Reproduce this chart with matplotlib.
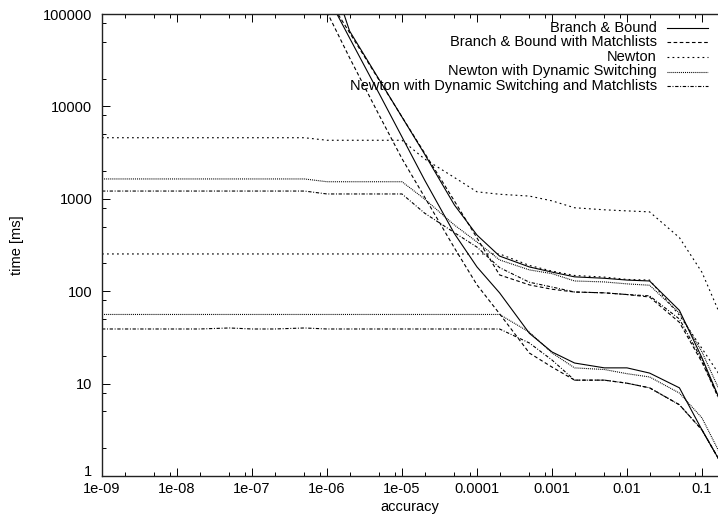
import numpy as np
import matplotlib
matplotlib.use('Agg')
import matplotlib.pyplot as plt
from matplotlib.lines import Line2D
from matplotlib.transforms import ScaledTranslation
from matplotlib.ticker import LogLocator, FixedLocator, FixedFormatter, NullFormatter

plt.rcParams['font.family'] = ['Liberation Sans', 'DejaVu Sans']
plt.rcParams['lines.scale_dashes'] = False

nan = np.nan

# Messwerte: Laufzeit [ms] über geforderter Genauigkeit
accuracy = [1e-9, 2e-9, 5e-9, 1e-8, 2e-8, 5e-8, 1e-7, 2e-7, 5e-7,
            1e-6, 2e-6, 5e-6, 1e-5, 2e-5, 5e-5, 1e-4, 2e-4, 5e-4,
            1e-3, 2e-3, 5e-3, 1e-2, 2e-2, 5e-2, 1e-1, 0.165]

bb_a = [nan] * 9 + [355000, 65500, 19300, 7670, 3050, 857, 405, 240, 183,
                    161, 143, 138, 132, 129, 62, 19, 7.3]
bb_b = [nan] * 9 + [160000, 55000, 13600, 4670, 1600, 420, 183, 96, 35,
                    22, 16.7, 14.8, 14.8, 13.0, 9.0, 3.15, 1.55]
bbm_a = [nan] * 9 + [155000, 62800, 19000, 7700, 3130, 946, 377, 150, 117,
                     105, 98, 96, 92, 86.5, 46, 17, 7.2]
bbm_b = [nan] * 9 + [105000, 33600, 7930, 2720, 1046, 294, 117, 57, 21.4,
                     15.1, 10.9, 10.9, 10.1, 9.0, 5.9, 3.15, 1.55]
newton_a = [4580] * 9 + [4300] * 4 + [2700, 1700, 1190, 1120, 1070,
                                      950, 800, 760, 740, 722, 380, 160, 62]
newton_b = [253] * 17 + [190, 165, 148, 142, 134, 132, 55, 24, 13]
nds_a = [1640] * 9 + [1530] * 4 + [995, 520, 341, 218, 170,
                                   155, 129, 126, 120, 116, 58, 22, 9]
nds_b = [56] * 17 + [36, 21.5, 14.8, 14.2, 12.8, 11.8, 7.9, 4.25, 1.9]
ndsm_a = [1213] * 9 + [1128] * 4 + [700, 430, 300, 180, 125,
                                    111, 98, 96, 92, 89, 50, 18, 7]
ndsm_b = [39, 39, 39, 39, 39, 40, 39, 39, 40, 39, 39, 39, 39, 39, 39, 39, 39,
          27.5, 18, 10.9, 10.9, 10.1, 9.0, 5.9, 3.15, 1.55]

labels = ['Branch & Bound', 'Branch & Bound with Matchlists', 'Newton',
          'Newton with Dynamic Switching',
          'Newton with Dynamic Switching and Matchlists']

x_ticks = [1e-9, 1e-8, 1e-7, 1e-6, 1e-5, 1e-4, 1e-3, 1e-2, 1e-1]
x_ticklabels = ['1e-09', '1e-08', '1e-07', '1e-06', '1e-05',
                '0.0001', '0.001', '0.01', '0.1']
y_ticks = [1, 10, 100, 1000, 10000, 100000]
y_ticklabels = ['1', '10', '100', '1000', '10000', '100000']

# Linienstile wie im gnuplot-Terminal (Angaben in pt)
styles = [
    '-',
    (0, (2.6, 1.8)),
    (0, (1.3, 2.3)),
    (0, (0.7, 0.7)),
    (0, (2.4, 1.2, 0.7, 1.2)),
]
series = [(bb_a, bb_b), (bbm_a, bbm_b), (newton_a, newton_b),
          (nds_a, nds_b), (ndsm_a, ndsm_b)]

W, H = 718, 523
fs = 10.5
fig = plt.figure(figsize=(W / 100, H / 100), dpi=100)
ax = fig.add_axes([102 / W, 47 / H, 616.3 / W, 462 / H])

lw = 0.8
for (a, b), ls in zip(series, styles):
    ax.plot(accuracy, a, color='black', lw=lw, linestyle=ls)
    ax.plot(accuracy, b, color='black', lw=lw, linestyle=ls)

ax.set_xscale('log')
ax.set_yscale('log')
ax.set_xlim(1e-9, 0.165)
ax.set_ylim(1, 100000)

ax.xaxis.set_major_locator(FixedLocator(x_ticks))
ax.xaxis.set_major_formatter(FixedFormatter(x_ticklabels))
ax.yaxis.set_major_locator(FixedLocator(y_ticks))
ax.yaxis.set_major_formatter(FixedFormatter(y_ticklabels))
ax.xaxis.set_minor_locator(LogLocator(base=10, subs=(2, 5, 8), numticks=20))
ax.yaxis.set_minor_locator(LogLocator(base=10, subs=(2, 5, 8), numticks=20))
ax.xaxis.set_minor_formatter(NullFormatter())
ax.yaxis.set_minor_formatter(NullFormatter())

ax.tick_params(which='both', direction='in', top=True, right=False,
               width=0.7, labelsize=fs, colors='black')
ax.tick_params(which='major', length=5.8)
ax.tick_params(which='minor', length=2.9)
ax.tick_params(axis='x', pad=4.5)
ax.tick_params(axis='y', pad=7)

# die "1" sitzt etwas über der Achse, damit sie nicht mit "1e-09" kollidiert
lbl = ax.yaxis.get_major_ticks()[0].label1
lbl.set_transform(lbl.get_transform() + ScaledTranslation(0, 6 / 100, fig.dpi_scale_trans))

ax.spines['right'].set_visible(False)
for side in ['left', 'bottom', 'top']:
    ax.spines[side].set_linewidth(1.0)
    ax.spines[side].set_color('#222222')

fig.text(410 / W, 1 - 507 / H, 'accuracy', ha='center', va='center', fontsize=fs)
fig.text(17 / W, 1 - 245 / H, 'time [ms]', ha='center', va='center',
         rotation=90, fontsize=fs)

# Legende rechts oben: Text rechtsbündig, Linienmuster daneben
rows = [28, 42.5, 57, 71.5, 86]
for label, ls, y in zip(labels, styles, rows):
    fy = 1 - y / H
    fig.text(657 / W, fy, label, ha='right', va='center', fontsize=fs)
    fig.add_artist(Line2D([667 / W, 708 / W], [fy, fy], transform=fig.transFigure,
                          color='black', lw=lw, linestyle=ls))

fig.savefig('out.png', dpi=100)
